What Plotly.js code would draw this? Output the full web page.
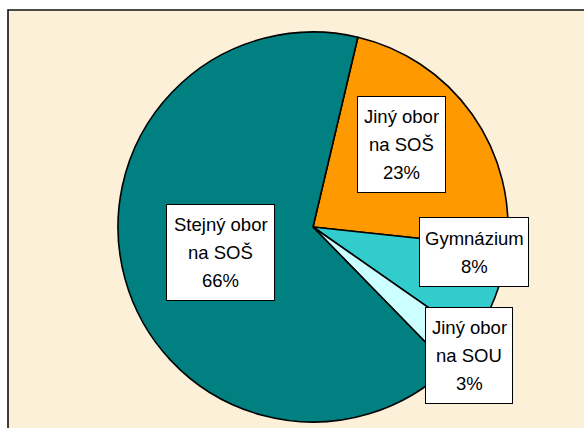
<!DOCTYPE html>
<html>
<head>
<meta charset="utf-8">
<script src="https://cdn.plot.ly/plotly-3.0.1.min.js"></script>
<style>html,body{margin:0;padding:0;background:#fff;}#chart{width:584px;height:428px;}</style>
</head>
<body>
<div id="chart"></div>
<script>
// Data
const labels = ['Jiný obor<br>na SOŠ', 'Gymnázium', 'Jiný obor<br>na SOU', 'Stejný obor<br>na SOŠ'];
const values = [23, 8, 3, 66];
const colors = ['#FF9900', '#33CCCC', '#CCFFFF', '#008080'];

const W = 584, H = 428;
// label box placement (pixels): center x, center y, width, height
const boxes = [
  [401.5, 144.5, 89, 97],
  [474, 252, 110, 70],
  [469, 355.5, 88, 97],
  [220.5, 252.5, 109, 97]
];
const lineGap = 28;

const total = values.reduce((a, b) => a + b, 0);
const annotations = [];
labels.forEach((lab, i) => {
  const b = boxes[i];
  annotations.push({
    xref: 'paper', yref: 'paper',
    x: b[0] / W, y: 1 - b[1] / H,
    xanchor: 'center', yanchor: 'middle',
    text: ' ', showarrow: false,
    width: b[2] - 2, height: b[3] - 2, borderpad: 0,
    bgcolor: '#FFFFFF', bordercolor: '#000000', borderwidth: 1
  });
  const lines = lab.split('<br>').concat([Math.round(values[i] / total * 100) + '%']);
  lines.forEach((ln, j) => {
    const py = b[1] + (j - (lines.length - 1) / 2) * lineGap;
    annotations.push({
      xref: 'paper', yref: 'paper',
      x: b[0] / W, y: 1 - py / H,
      xanchor: 'center', yanchor: 'middle',
      text: ln, showarrow: false, borderpad: 0,
      font: {family: 'Liberation Sans, Arial, sans-serif', size: 18.5, color: '#000000'}
    });
  });
});

const cx = 313, cy = 227, r = 195;
const trace = {
  type: 'pie',
  labels: labels,
  values: values,
  sort: false,
  direction: 'clockwise',
  rotation: 13.3,
  textinfo: 'none',
  hoverinfo: 'none',
  marker: {colors: colors, line: {color: '#000000', width: 1.6}},
  domain: {x: [(cx - r) / W, (cx + r) / W], y: [1 - (cy + r) / H, 1 - (cy - r) / H]},
  showlegend: false
};

const layout = {
  width: W, height: H,
  margin: {l: 0, r: 0, t: 0, b: 0},
  paper_bgcolor: '#FFFFFF',
  showlegend: false,
  shapes: [{
    type: 'rect', xref: 'paper', yref: 'paper', layer: 'below',
    x0: 8 / W, x1: 1.05, y0: -0.05, y1: 1 - 10 / H,
    fillcolor: '#FCF0D8', line: {color: '#111111', width: 1.6}
  }],
  annotations: annotations
};

Plotly.newPlot('chart', [trace], layout, {displayModeBar: false, staticPlot: true});
</script>
</body>
</html>
